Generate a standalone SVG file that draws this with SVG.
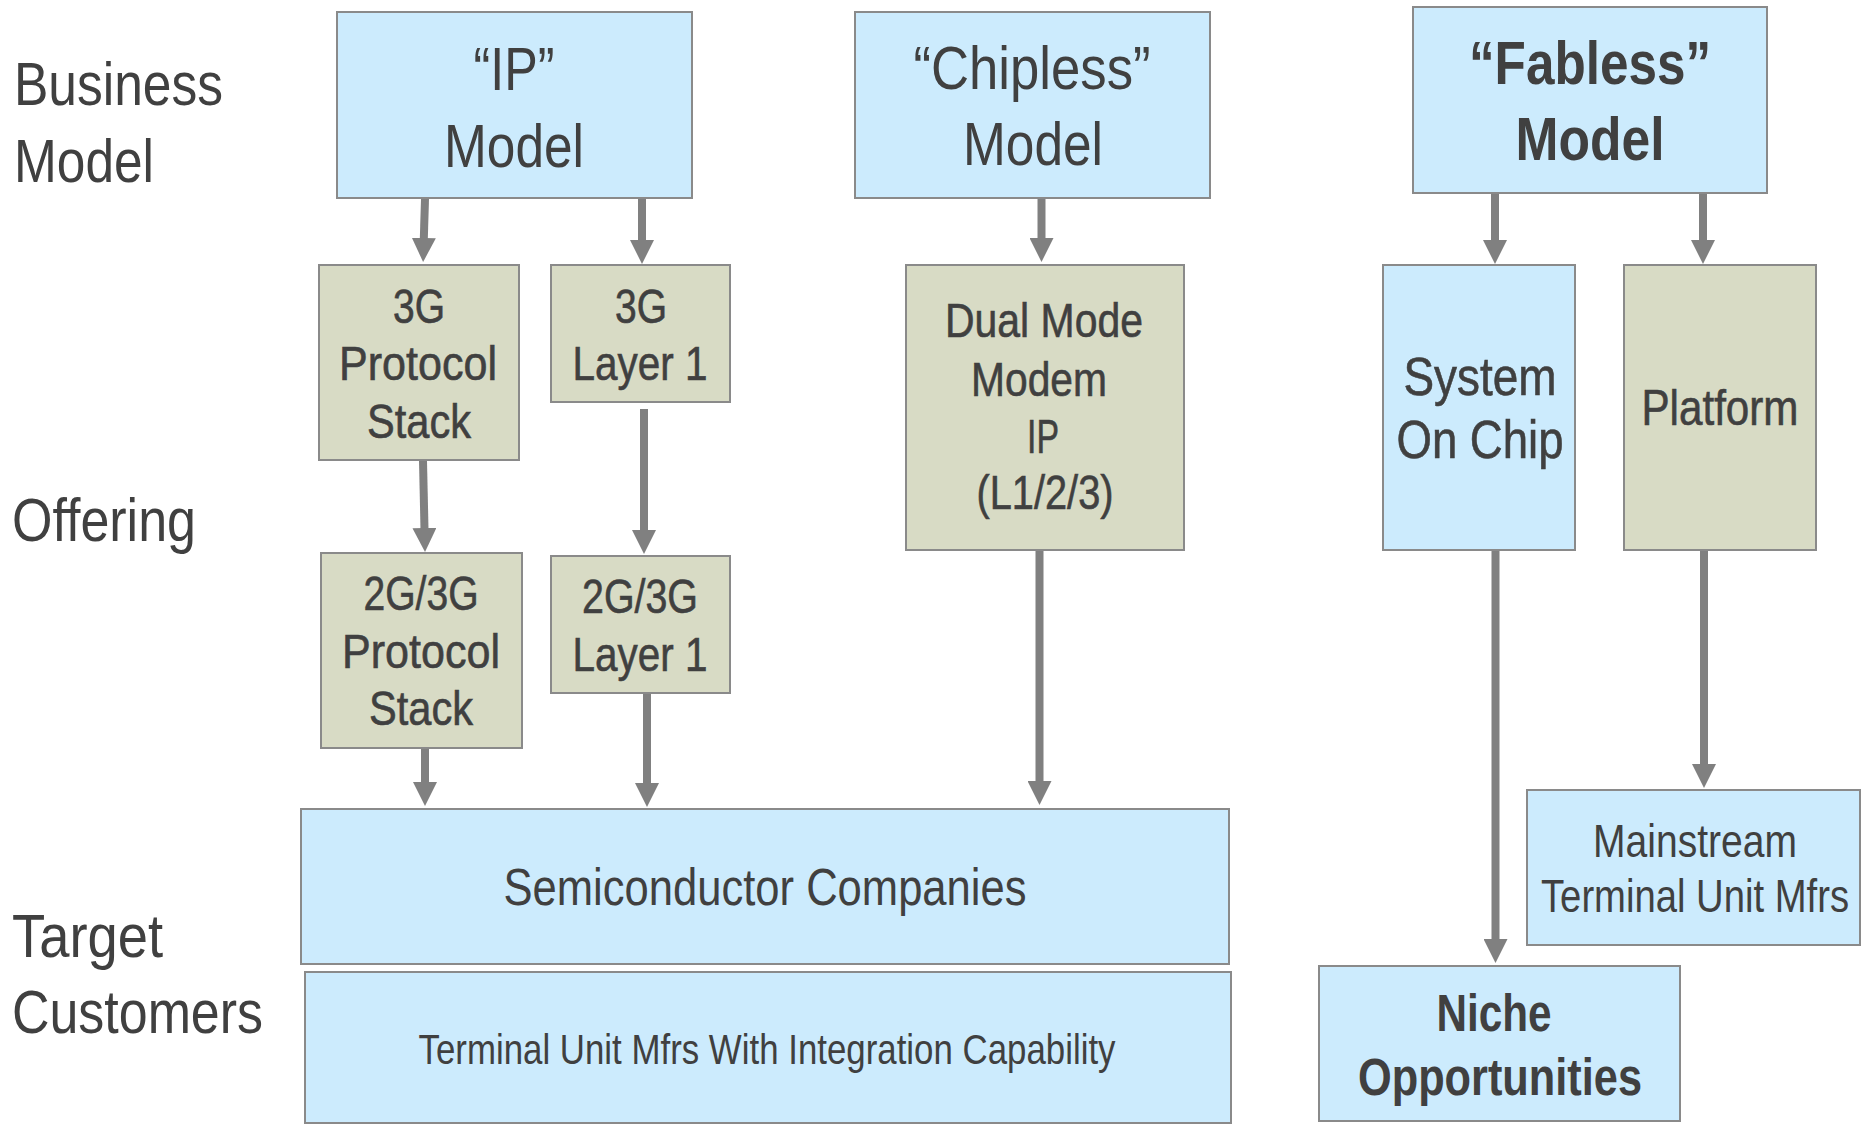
<svg xmlns="http://www.w3.org/2000/svg" width="1861" height="1124" viewBox="0 0 1861 1124">
<style>
text{font-family:"Liberation Sans Narrow","Liberation Sans",Arial,sans-serif;fill:#404040;text-anchor:middle}
.side{text-anchor:start;font-size:61px}
.blue{fill:#CCEBFD;stroke:#8A8A8A;stroke-width:2}
.khaki{fill:#D8DBC5;stroke:#8A8A8A;stroke-width:2}
.big{font-size:62px}
.bold{font-weight:bold}
.mid{font-size:48px;stroke:#404040;stroke-width:0.6}
.conn line{stroke:#808080;stroke-width:8;marker-end:url(#ah)}
</style>
<defs>
<marker id="ah" markerUnits="userSpaceOnUse" viewBox="0 0 24 24" markerWidth="24" markerHeight="24" refX="1" refY="12" orient="auto">
<path d="M0,0 L24,12 L0,24 z" fill="#808080"/>
</marker>
</defs>
<rect width="1861" height="1124" fill="#fff"/>

<g id="row-labels">
<text class="side" x="14" y="105" textLength="209" lengthAdjust="spacingAndGlyphs">Business</text>
<text class="side" x="14" y="182" textLength="140" lengthAdjust="spacingAndGlyphs">Model</text>
<text class="side" x="12" y="541" textLength="184" lengthAdjust="spacingAndGlyphs">Offering</text>
<text class="side" x="12" y="957" textLength="151" lengthAdjust="spacingAndGlyphs">Target</text>
<text class="side" x="12" y="1033" textLength="251" lengthAdjust="spacingAndGlyphs">Customers</text>
</g>

<g id="ip-model">
<rect class="blue" x="337" y="12" width="355" height="186"/>
<text class="big" x="514" y="90" textLength="81" lengthAdjust="spacingAndGlyphs">“IP”</text>
<text class="big" x="514" y="167" textLength="140" lengthAdjust="spacingAndGlyphs">Model</text>
</g>

<g id="chipless-model">
<rect class="blue" x="855" y="12" width="355" height="186"/>
<text class="big" x="1032" y="89" textLength="237" lengthAdjust="spacingAndGlyphs">“Chipless”</text>
<text class="big" x="1033" y="165" textLength="140" lengthAdjust="spacingAndGlyphs">Model</text>
</g>

<g id="fabless-model">
<rect class="blue" x="1413" y="7" width="354" height="186"/>
<text class="big bold" x="1590" y="84" textLength="242" lengthAdjust="spacingAndGlyphs">“Fabless”</text>
<text class="big bold" x="1590" y="160" textLength="149" lengthAdjust="spacingAndGlyphs">Model</text>
</g>

<g id="3g-protocol-stack">
<rect class="khaki" x="319" y="265" width="200" height="195"/>
<text class="mid" x="419" y="323" textLength="52" lengthAdjust="spacingAndGlyphs">3G</text>
<text class="mid" x="418" y="380" textLength="158" lengthAdjust="spacingAndGlyphs">Protocol</text>
<text class="mid" x="419" y="438" textLength="104" lengthAdjust="spacingAndGlyphs">Stack</text>
</g>

<g id="3g-layer-1">
<rect class="khaki" x="551" y="265" width="179" height="137"/>
<text class="mid" x="641" y="323" textLength="52" lengthAdjust="spacingAndGlyphs">3G</text>
<text class="mid" x="640" y="380" textLength="135" lengthAdjust="spacingAndGlyphs">Layer 1</text>
</g>

<g id="2g3g-protocol-stack">
<rect class="khaki" x="321" y="553" width="201" height="195"/>
<text class="mid" x="421" y="610" textLength="115" lengthAdjust="spacingAndGlyphs">2G/3G</text>
<text class="mid" x="421" y="668" textLength="158" lengthAdjust="spacingAndGlyphs">Protocol</text>
<text class="mid" x="421" y="725" textLength="104" lengthAdjust="spacingAndGlyphs">Stack</text>
</g>

<g id="2g3g-layer-1">
<rect class="khaki" x="551" y="556" width="179" height="137"/>
<text class="mid" x="640" y="613" textLength="116" lengthAdjust="spacingAndGlyphs">2G/3G</text>
<text class="mid" x="640" y="671" textLength="135" lengthAdjust="spacingAndGlyphs">Layer 1</text>
</g>

<g id="dual-mode-modem-ip">
<rect class="khaki" x="906" y="265" width="278" height="285"/>
<text class="mid" x="1044" y="337" textLength="198" lengthAdjust="spacingAndGlyphs">Dual Mode</text>
<text class="mid" x="1039" y="396" textLength="136" lengthAdjust="spacingAndGlyphs">Modem</text>
<text class="mid" x="1043" y="453" textLength="32" lengthAdjust="spacingAndGlyphs">IP</text>
<text class="mid" x="1045" y="509" textLength="137" lengthAdjust="spacingAndGlyphs">(L1/2/3)</text>
</g>

<g id="system-on-chip">
<rect class="blue" x="1383" y="265" width="192" height="285"/>
<text class="mid" style="font-size:53px" x="1480" y="395" textLength="153" lengthAdjust="spacingAndGlyphs">System</text>
<text class="mid" style="font-size:53px" x="1480" y="458" textLength="167" lengthAdjust="spacingAndGlyphs">On Chip</text>
</g>

<g id="platform">
<rect class="khaki" x="1624" y="265" width="192" height="285"/>
<text class="mid" style="font-size:50px" x="1720" y="425" textLength="157" lengthAdjust="spacingAndGlyphs">Platform</text>
</g>

<g id="semiconductor-companies">
<rect class="blue" x="301" y="809" width="928" height="155"/>
<text style="font-size:52px" x="765" y="905" textLength="523" lengthAdjust="spacingAndGlyphs">Semiconductor Companies</text>
</g>

<g id="terminal-unit-mfrs-integration">
<rect class="blue" x="305" y="972" width="926" height="151"/>
<text style="font-size:42px" x="767" y="1064" textLength="697" lengthAdjust="spacingAndGlyphs">Terminal Unit Mfrs With Integration Capability</text>
</g>

<g id="mainstream-terminal-unit-mfrs">
<rect class="blue" x="1527" y="790" width="333" height="155"/>
<text style="font-size:46px" x="1695" y="857" textLength="204" lengthAdjust="spacingAndGlyphs">Mainstream</text>
<text style="font-size:46px" x="1695" y="912" textLength="308" lengthAdjust="spacingAndGlyphs">Terminal Unit Mfrs</text>
</g>

<g id="niche-opportunities">
<rect class="blue" x="1319" y="966" width="361" height="155"/>
<text class="bold" style="font-size:51px" x="1494" y="1031" textLength="115" lengthAdjust="spacingAndGlyphs">Niche</text>
<text class="bold" style="font-size:51px" x="1500" y="1095" textLength="284" lengthAdjust="spacingAndGlyphs">Opportunities</text>
</g>

<g id="connectors" class="conn">
<line x1="425" y1="199" x2="423.8" y2="239"/>
<line x1="642" y1="199" x2="642" y2="241"/>
<line x1="1041.5" y1="199" x2="1041.5" y2="239"/>
<line x1="1495" y1="194" x2="1495" y2="241"/>
<line x1="1703" y1="194" x2="1703" y2="241"/>
<line x1="423" y1="461" x2="424.5" y2="529"/>
<line x1="644" y1="409" x2="644" y2="531"/>
<line x1="425" y1="749" x2="425" y2="783"/>
<line x1="647" y1="694" x2="647" y2="784"/>
<line x1="1039.5" y1="551" x2="1039.5" y2="782"/>
<line x1="1495.5" y1="551" x2="1495.5" y2="940"/>
<line x1="1704" y1="551" x2="1704" y2="765"/>
</g>
</svg>
